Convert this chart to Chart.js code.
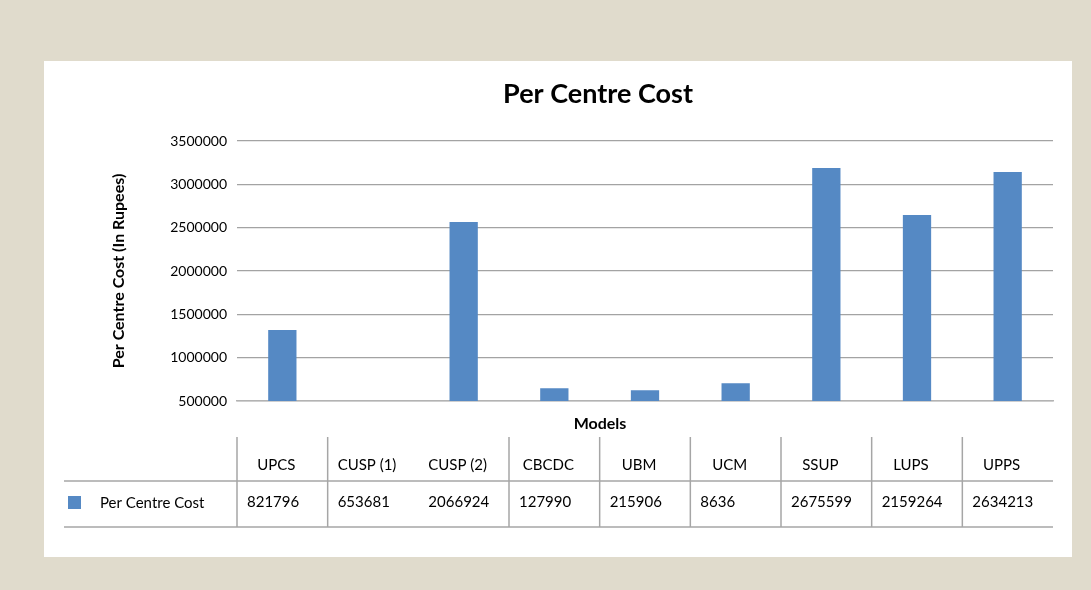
<!DOCTYPE html>
<html>
<head>
<meta charset="utf-8">
<script src="https://cdn.jsdelivr.net/npm/chart.js@4/dist/chart.umd.min.js"></script>
<style>
  html, body { margin: 0; padding: 0; background: #e0dbcc; }
</style>
</head>
<body>
<canvas id="chart" width="1091" height="590"></canvas>
<script>
const models = ["UPCS", "CUSP (1)", "CUSP (2)", "CBCDC", "UBM", "UCM", "SSUP", "LUPS", "UPPS"];
// bar heights as drawn in the picture (CUSP (1) shows no bar)
const barValues = [1318000, null, 2565000, 647000, 624000, 704000, 3188000, 2645000, 3142000];
// numbers printed in the data table under the plot
const tableValues = ["821796", "653681", "2066924", "127990", "215906", "8636", "2675599", "2159264", "2634213"];
const yTicks = ["500000", "1000000", "1500000", "2000000", "2500000", "3000000", "3500000"];
const seriesName = "Per Centre Cost";
const chartTitle = "Per Centre Cost";
const xTitle = "Models";
const barColor = "#5589c4";
const FONT = "Lato, 'Open Sans', sans-serif";

Chart.defaults.font.family = FONT;
Chart.defaults.color = "#000";

// beige frame with the white card
const panelBg = {
  id: "panelBg",
  beforeDraw(chart) {
    const ctx = chart.ctx;
    ctx.save();
    ctx.fillStyle = "#e0dbcc";
    ctx.fillRect(0, 0, chart.width, chart.height);
    ctx.fillStyle = "#ffffff";
    ctx.fillRect(44, 61, 1028, 496);
    ctx.restore();
  }
};

// title, "Models" label and the excel-style data table
const dataTable = {
  id: "dataTable",
  afterDraw(chart) {
    const { ctx, chartArea } = chart;
    const x = chart.scales.x;
    const w = (chartArea.right - chartArea.left) / models.length;
    ctx.save();
    ctx.fillStyle = "#000";
    ctx.textAlign = "center";
    ctx.textBaseline = "alphabetic";
    ctx.font = "bold 27px " + FONT;
    ctx.fillText(chartTitle, 598, 103);
    ctx.font = "bold 16px " + FONT;
    ctx.fillText(xTitle, 600, 429);

    ctx.strokeStyle = "#a6a6a6";
    ctx.lineWidth = 1.5;
    [481, 527].forEach(y => {
      ctx.beginPath();
      ctx.moveTo(64, y);
      ctx.lineTo(chartArea.right, y);
      ctx.stroke();
    });
    ctx.font = "15px " + FONT;
    ctx.textBaseline = "middle";
    models.forEach((m, i) => {
      const cx = x.getPixelForValue(i);
      const left = cx - w / 2;
      // the source has no divider between the two CUSP columns
      if (i !== 2) {
        ctx.beginPath();
        ctx.moveTo(left, 437);
        ctx.lineTo(left, 527);
        ctx.stroke();
      }
      ctx.textAlign = "center";
      ctx.fillText(m, cx - 6, 465);
      ctx.textAlign = "left";
      ctx.fillText(tableValues[i], left + 10, 502);
    });
    ctx.fillStyle = barColor;
    ctx.fillRect(68, 496, 13, 13);
    ctx.fillStyle = "#000";
    ctx.textAlign = "left";
    ctx.fillText(seriesName, 100, 503);
    ctx.restore();
  }
};

new Chart(document.getElementById("chart"), {
  type: "bar",
  data: {
    labels: models,
    datasets: [{
      label: seriesName,
      data: barValues,
      backgroundColor: barColor,
      barPercentage: 0.39,
      categoryPercentage: 0.8
    }]
  },
  options: {
    responsive: false,
    devicePixelRatio: 1,
    animation: false,
    layout: { padding: { left: 105, right: 38, top: 141, bottom: 157 } },
    plugins: {
      legend: { display: false },
      tooltip: { enabled: false },
      title: { display: false }
    },
    scales: {
      x: {
        grid: { display: false },
        border: { color: "#b3b3b3", width: 1.5 },
        ticks: { display: false },
        afterFit(scale) { scale.height = 32; }
      },
      y: {
        min: 500000,
        max: 3500000,
        border: { display: false },
        grid: { color: "#a3a3a3", lineWidth: 1.2, drawTicks: false },
        ticks: {
          stepSize: 500000,
          padding: 10,
          font: { size: 14 },
          callback: (v, i) => yTicks[i]
        },
        title: {
          display: true,
          text: "Per Centre Cost (In Rupees)",
          font: { size: 16, weight: "bold" },
          padding: { top: 4, bottom: 4 }
        },
        afterFit(scale) { scale.width = 132; }
      }
    }
  },
  plugins: [panelBg, dataTable]
});
</script>
</body>
</html>
